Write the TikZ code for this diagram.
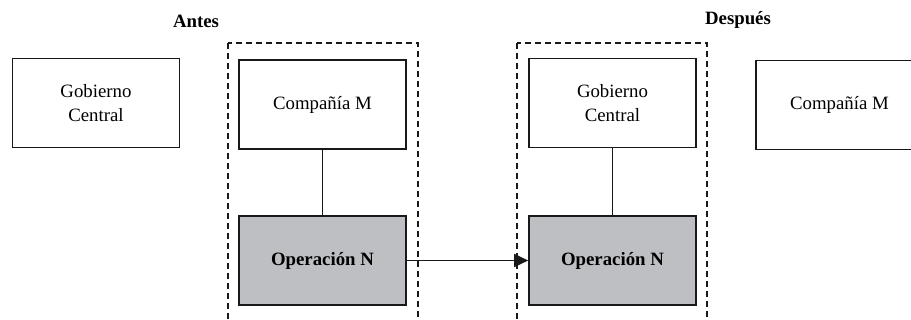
\documentclass[tikz,border=0pt]{standalone}
\usepackage{fontspec}
\setmainfont{Liberation Serif}
\newfontfamily\boxfont{Liberation Serif}
\usetikzlibrary{arrows.meta}
\definecolor{opgray}{RGB}{190,191,194}
\tikzset{
  entity/.style={draw=black!90, line width=1.6pt, minimum width=167pt, minimum height=89pt,
    inner sep=0pt, align=center, font=\boxfont\fontsize{18.8}{24}\selectfont},
  opbox/.style={entity, fill=opgray, font=\boxfont\fontsize{18.8}{24}\selectfont\bfseries},
  heading/.style={font=\boxfont\fontsize{18.8}{22}\selectfont\bfseries, inner sep=0pt},
  group/.style={draw=black!90, line width=1.6pt, dash pattern=on 6pt off 4pt},
  link/.style={draw=black!90, line width=1.4pt}
}
\begin{document}
\begin{tikzpicture}[x=1pt, y=-1pt]
  \useasboundingbox (0,0) rectangle (911,320);
  \clip (0,0) rectangle (911,320);

  % headings
  \node[heading] (antes) at (196,21) {Antes};
  \node[heading] (despues) at (738,20) {Después};

  % dashed groupings, open at the bottom edge
  \draw[group] (228,43) rectangle (418,335);
  \draw[group] (517,43) rectangle (707,335);

  % before
  \node[entity] (gc1) at (96,103) {Gobierno\\Central};
  \node[entity] (cm1) at (322.5,104.5) {Compañía M};
  \node[opbox]  (op1) at (322.5,260.5) {Operación N};
  \draw[link] (cm1.south) -- (op1.north);

  % after
  \node[entity] (gc2) at (612.5,103) {Gobierno\\Central};
  \node[opbox]  (op2) at (612.5,260.5) {Operación N};
  \node[entity] (cm2) at (839.5,105) {Compañía M};
  \draw[link] (gc2.south) -- (op2.north);

  % transfer
  \draw[link, -{Triangle[length=14pt,width=13pt]}] (op1.east) -- (op2.west);
\end{tikzpicture}
\end{document}
